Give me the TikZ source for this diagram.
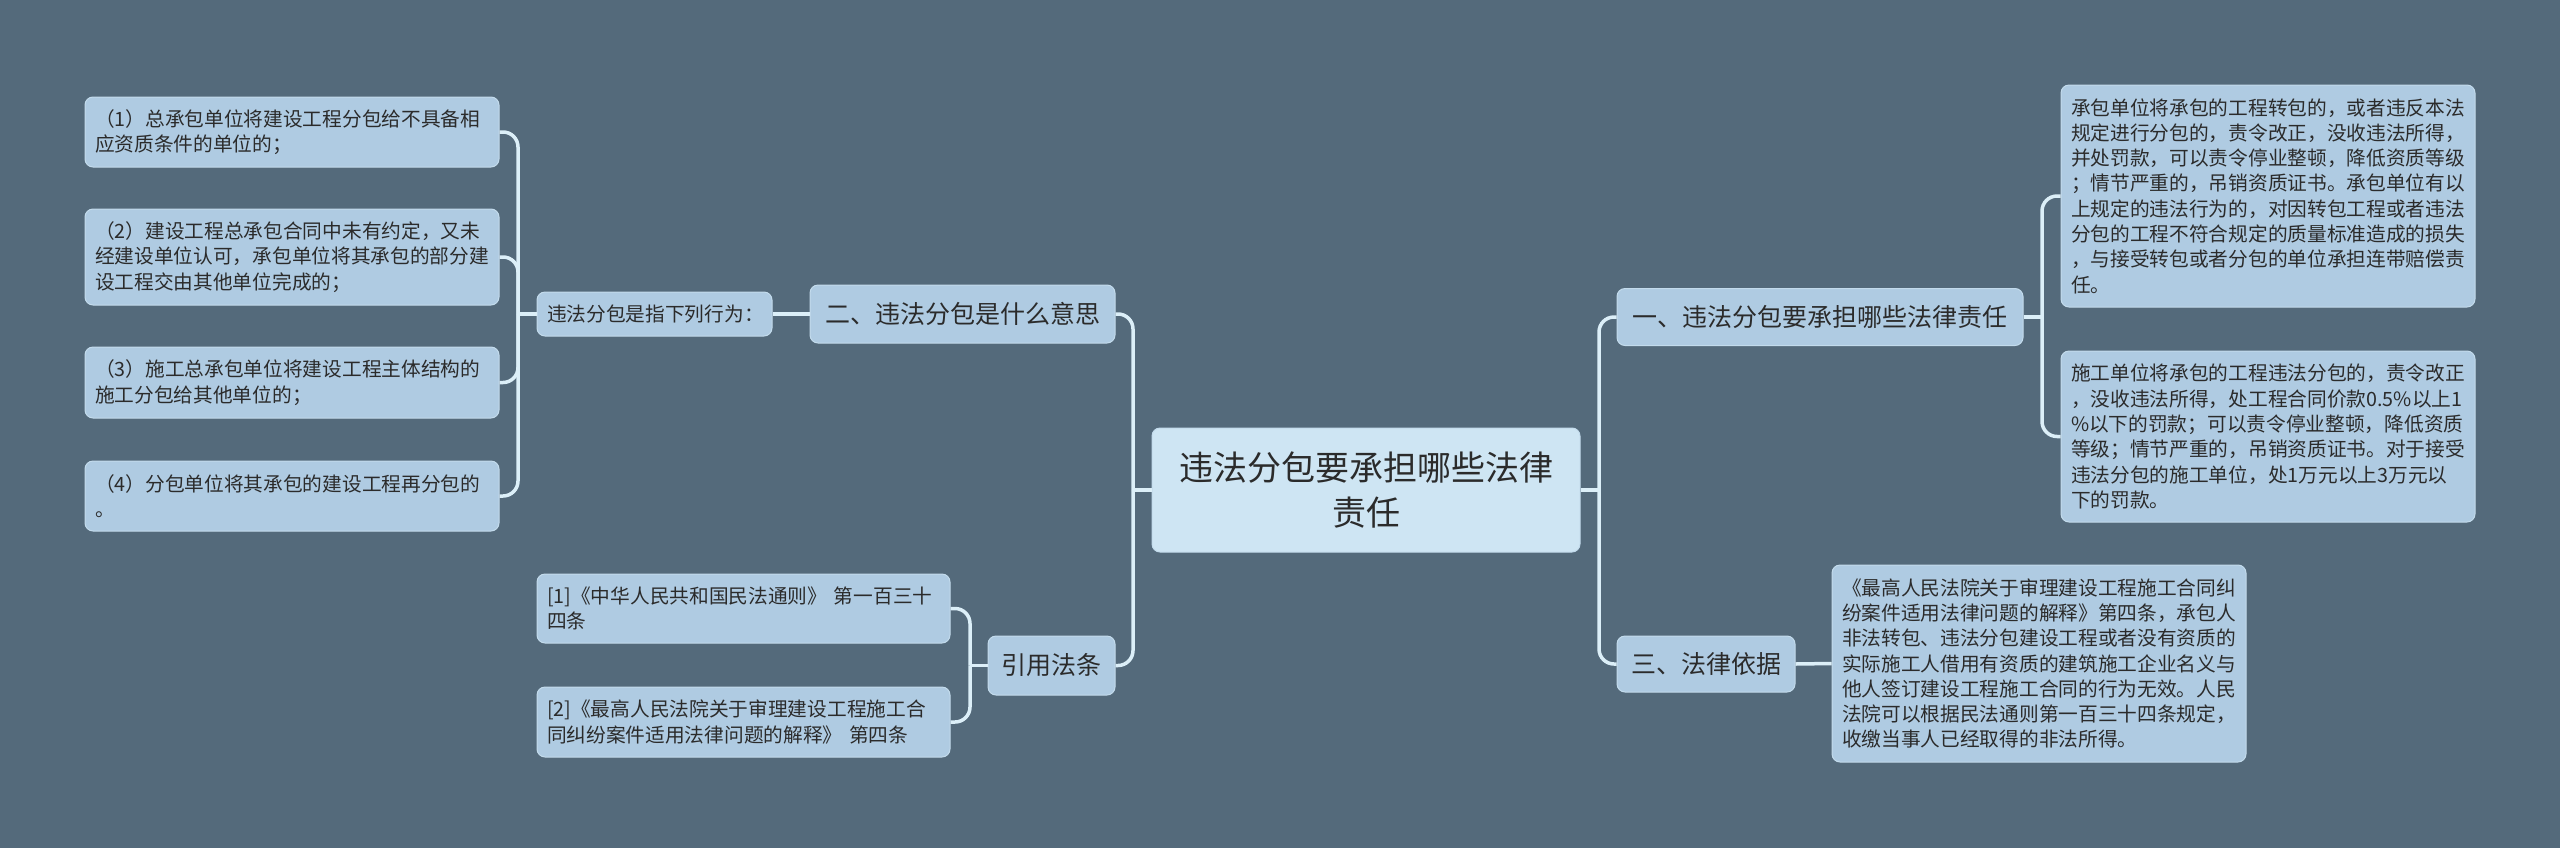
\documentclass[tikz,border=0pt]{standalone}
\usepackage{fontspec}
\setmainfont{Noto Sans CJK SC}
\definecolor{bgc}{HTML}{546A7B}
\definecolor{nodefill}{HTML}{AFCBE2}
\definecolor{rootfill}{HTML}{CEE5F3}
\definecolor{nodeline}{HTML}{C3DBEC}
\definecolor{connc}{HTML}{DCEFF8}
\definecolor{txt}{HTML}{2B2B2B}
\tikzset{
  box/.style={draw=nodeline, line width=1pt, fill=nodefill, rounded corners=8pt,
    inner sep=0pt, text=txt, align=left},
  small/.style={box, font=\fontsize{19.7pt}{25.3pt}\selectfont, text width=#1},
  small/.default=394pt,
  mid/.style={box, font=\fontsize{25pt}{32pt}\selectfont, align=center},
  rootbox/.style={box, fill=rootfill, font=\fontsize{34pt}{45pt}\selectfont, align=center},
  conn/.style={draw=connc, line width=3.5pt, rounded corners=15pt},
}
\begin{document}
\begin{tikzpicture}[x=1pt,y=-1pt]
\useasboundingbox (0,0) rectangle (2560,847);
\fill[bgc] (-10,-10) rectangle (2570,857);

% junctions
\coordinate (jl) at (1133,490);
\coordinate (ja) at (518,314);
\coordinate (jc) at (970,665.5);
\coordinate (jr) at (1599,490);
\coordinate (j1) at (2042,317);

% root
\node[rootbox, minimum width=428pt, minimum height=124pt] (root) at (1366,490) {违法分包要承担哪些法律\\责任};

% left side
\node[mid, minimum width=305pt, minimum height=58pt] (n2) at (962.5,314) {二、违法分包是什么意思};
\node[small=215pt, minimum width=235pt, minimum height=44pt] (n2a) at (654.5,314) {违法分包是指下列行为：};
\node[small, minimum width=414pt, minimum height=70pt] (L1) at (292,132) {（1）总承包单位将建设工程分包给不具备相\\应资质条件的单位的；};
\node[small, minimum width=414pt, minimum height=96pt] (L2) at (292,257) {（2）建设工程总承包合同中未有约定，又未\\经建设单位认可，承包单位将其承包的部分建\\设工程交由其他单位完成的；};
\node[small, minimum width=414pt, minimum height=71pt] (L3) at (292,382.5) {（3）施工总承包单位将建设工程主体结构的\\施工分包给其他单位的；};
\node[small, minimum width=414pt, minimum height=70pt] (L4) at (292,496) {（4）分包单位将其承包的建设工程再分包的\\。};

\node[mid, minimum width=127pt, minimum height=59pt] (cite) at (1051.5,665.5) {引用法条};
\node[small=393pt, minimum width=413pt, minimum height=69pt] (c1) at (743.5,608.5) {[1]《中华人民共和国民法通则》 第一百三十\\四条};
\node[small=393pt, minimum width=413pt, minimum height=70pt] (c2) at (743.5,722) {[2]《最高人民法院关于审理建设工程施工合\\同纠纷案件适用法律问题的解释》 第四条};

% right side
\node[mid, minimum width=406pt, minimum height=57pt] (n1) at (1820,317) {一、违法分包要承担哪些法律责任};
\node[small, minimum width=414pt, minimum height=222pt] (r1) at (2268,196) {承包单位将承包的工程转包的，或者违反本法\\规定进行分包的，责令改正，没收违法所得，\\并处罚款，可以责令停业整顿，降低资质等级\\；情节严重的，吊销资质证书。承包单位有以\\上规定的违法行为的，对因转包工程或者违法\\分包的工程不符合规定的质量标准造成的损失\\，与接受转包或者分包的单位承担连带赔偿责\\任。};
\node[small, minimum width=414pt, minimum height=171pt] (r2) at (2268,436.5) {施工单位将承包的工程违法分包的，责令改正\\，没收违法所得，处工程合同价款0.5\%以上1\\\%以下的罚款；可以责令停业整顿，降低资质\\等级；情节严重的，吊销资质证书。对于接受\\违法分包的施工单位，处1万元以上3万元以\\下的罚款。};
\node[mid, minimum width=178pt, minimum height=56pt] (n3) at (1706,664) {三、法律依据};
\node[small, minimum width=414pt, minimum height=197pt] (r3) at (2039,663.5) {《最高人民法院关于审理建设工程施工合同纠\\纷案件适用法律问题的解释》第四条，承包人\\非法转包、违法分包建设工程或者没有资质的\\实际施工人借用有资质的建筑施工企业名义与\\他人签订建设工程施工合同的行为无效。人民\\法院可以根据民法通则第一百三十四条规定，\\收缴当事人已经取得的非法所得。};

% connectors
\draw[conn] (root.west) -- (jl);
\draw[conn] (jl) |- (n2.east);
\draw[conn] (jl) |- (cite.east);
\draw[conn] (n2.west) -- (n2a.east);
\draw[conn] (n2a.west) -- (ja);
\draw[conn] (ja) |- (L1.east);
\draw[conn] (ja) |- (L2.east);
\draw[conn] (ja) |- (L3.east);
\draw[conn] (ja) |- (L4.east);
\draw[conn] (cite.west) -- (jc);
\draw[conn] (jc) |- (c1.east);
\draw[conn] (jc) |- (c2.east);
\draw[conn] (root.east) -- (jr);
\draw[conn] (jr) |- (n1.west);
\draw[conn] (jr) |- (n3.west);
\draw[conn] (n1.east) -- (j1);
\draw[conn] (j1) |- (r1.west);
\draw[conn] (j1) |- (r2.west);
\draw[conn] (n3.east) -- (r3.west);
\end{tikzpicture}
\end{document}
